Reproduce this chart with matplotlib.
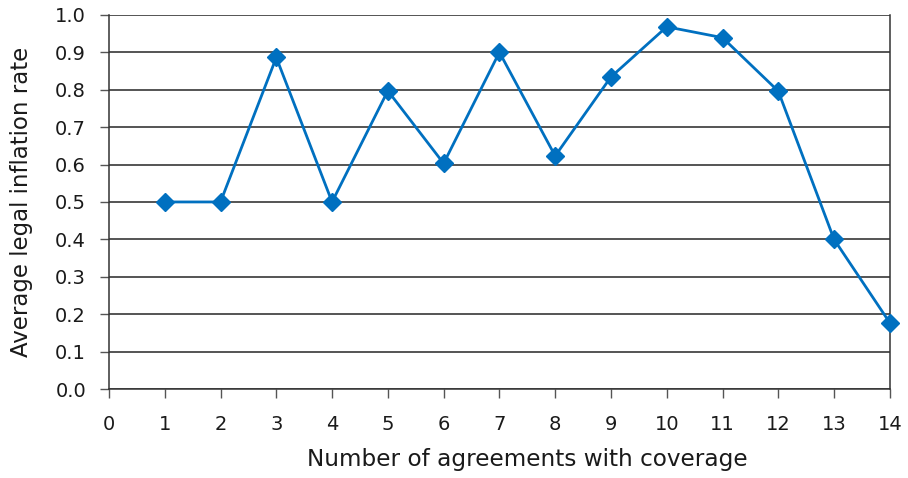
import matplotlib
matplotlib.use("Agg")
import matplotlib.pyplot as plt

agreements = [1, 2, 3, 4, 5, 6, 7, 8, 9, 10, 11, 12, 13, 14]
inflation_rate = [0.5, 0.5, 0.886, 0.5, 0.797, 0.603, 0.9, 0.623, 0.834, 0.968, 0.939, 0.796, 0.4, 0.177]
x_ticks = list(range(0, 15))
y_ticks = [0.0, 0.1, 0.2, 0.3, 0.4, 0.5, 0.6, 0.7, 0.8, 0.9, 1.0]

plt.rcParams["font.family"] = ["DejaVu Sans"]

fig = plt.figure(figsize=(9.08, 4.78), dpi=100)
ax = fig.add_axes([0.120, 0.186, 0.860, 0.783])

ax.plot(agreements, inflation_rate, color="#0070C0", lw=2, marker="D",
        markersize=9, zorder=3, clip_on=False)

ax.set_xlim(0, 14)
ax.set_ylim(0, 1.0)
ax.set_xticks(x_ticks)
ax.set_yticks(y_ticks)
ax.set_yticklabels([f"{v:.1f}" for v in y_ticks])
ax.yaxis.grid(True, color="#262626", lw=1.1)
ax.set_axisbelow(True)

for side in ("left", "bottom", "right"):
    ax.spines[side].set_color("#333333")
    ax.spines[side].set_linewidth(1.1)
ax.spines["top"].set_visible(False)

ax.tick_params(axis="both", direction="out", length=6.5, width=1, color="#555555",
               labelsize=14, labelcolor="#1a1a1a")
ax.tick_params(axis="x", pad=12)
ax.tick_params(axis="y", pad=10)

ax.set_xlabel("Number of agreements with coverage", fontsize=16.7, color="#1a1a1a")
ax.set_ylabel("Average legal inflation rate", fontsize=16.5, color="#1a1a1a")
ax.xaxis.set_label_coords(0.536, -0.158)
ax.yaxis.set_label_coords(-0.097, 0.5)

fig.savefig("out.png", dpi=100)
